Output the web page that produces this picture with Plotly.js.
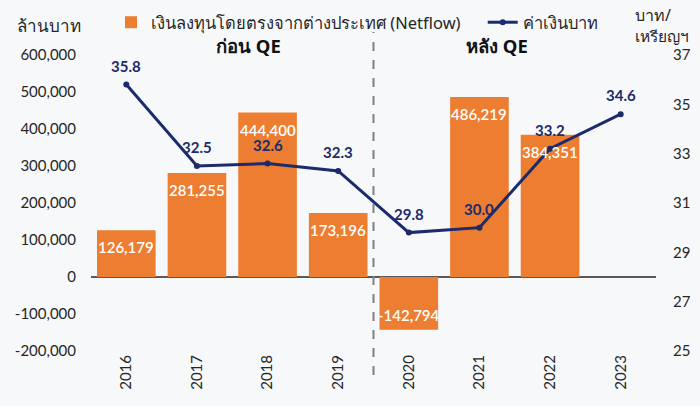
<!DOCTYPE html>
<html><head><meta charset="utf-8">
<script src="https://cdn.plot.ly/plotly-3.0.1.min.js"></script>
<style>html,body{margin:0;padding:0;background:#f7f8fa}</style>
</head><body>
<div id="chart" style="width:700px;height:406px"></div>
<script>
const years = ['2016','2017','2018','2019','2020','2021','2022','2023'];
const netflow = [126179, 281255, 444400, 173196, -142794, 486219, 384351, null];
const netflowLabels = ['126,179','281,255','444,400','173,196','-142,794','486,219','384,351',''];
const baht = [35.8, 32.5, 32.6, 32.3, 29.8, 30.0, 33.2, 34.6];
const bahtLabels = ['35.8','32.5','32.6','32.3','29.8','30.0','33.2','34.6'];
const leftTicks = [-200000,-100000,0,100000,200000,300000,400000,500000,600000];
const leftTickText = ['-200,000','-100,000','0','100,000','200,000','300,000','400,000','500,000','600,000'];
const rightTicks = [25,27,29,31,33,35,37];
const periodLabels = ['ก่อน QE','หลัง QE'];

const FONT = 'Lato, "Noto Sans", sans-serif';
const TH = '"Noto Sans", sans-serif';
const NAVY = '#1b2b6b';
const ORANGE = '#ed7d31';

const traces = [
  {
    type:'bar', x: years, y: netflow,
    name:'เงินลงทุนโดยตรงจากต่างประเทศ (Netflow)\u00a0\u00a0\u00a0\u00a0',
    marker:{color:ORANGE}, hoverinfo:'none'
  },
  {
    type:'scatter', mode:'lines+markers', x: years, y: baht, yaxis:'y2',
    name:'ค่าเงินบาท',
    line:{color:NAVY, width:3}, marker:{color:NAVY, size:6},
    hoverinfo:'none'
  }
];

const annotations = [];
years.forEach((yr,i)=>{
  if (netflow[i] !== null) {
    annotations.push({
      x: i, y: netflow[i], xref:'x', yref:'y', text: netflowLabels[i],
      showarrow:false, xanchor:'center', yanchor:'middle',
      yshift: netflow[i] >= 0 ? -17 : 15,
      font:{color:'#ffffff', size:15, family:FONT, weight:600}
    });
  }
  annotations.push({
    x: i, y: baht[i], xref:'x', yref:'y2', text: bahtLabels[i],
    showarrow:false, xanchor:'center', yanchor:'middle', yshift:19,
    font:{color:NAVY, size:15, family:FONT, weight:700}
  });
});
annotations.push(
  {xref:'paper', yref:'paper', x:(248-91)/565, y:(351-46)/296, xanchor:'center', yanchor:'middle',
   text:periodLabels[0], showarrow:false, font:{size:18.5, color:'#111', family:TH, weight:700}},
  {xref:'paper', yref:'paper', x:(497-91)/565, y:(351-46)/296, xanchor:'center', yanchor:'middle',
   text:periodLabels[1], showarrow:false, font:{size:18.5, color:'#111', family:TH, weight:700}},
  {xref:'paper', yref:'paper', x:(49-91)/565, y:(351-25)/296, xanchor:'center', yanchor:'middle',
   text:'ล้านบาท', showarrow:false, font:{size:17, color:'#262626', family:TH}},
  {xref:'paper', yref:'paper', x:(633-91)/565, y:(351-15)/296, xanchor:'left', yanchor:'middle',
   text:'บาท/', showarrow:false, font:{size:16, color:'#262626', family:TH}},
  {xref:'paper', yref:'paper', x:(633-91)/565, y:(351-36)/296, xanchor:'left', yanchor:'middle',
   text:'เหรียญฯ', showarrow:false, font:{size:15.5, color:'#262626', family:TH}}
);

const layout = {
  width:700, height:406,
  paper_bgcolor:'#f7f8fa', plot_bgcolor:'rgba(0,0,0,0)',
  margin:{l:91, r:44, t:55, b:55, autoexpand:false},
  font:{family:FONT, color:'#262626', size:15},
  bargap:0.17,
  showlegend:true,
  legend:{orientation:'h', x:(111-91)/565, y:(351-5)/296, xanchor:'left', yanchor:'top',
    bgcolor:'rgba(0,0,0,0)', font:{size:16.5, family:TH, color:'#262626'},
    traceorder:'normal'},
  xaxis:{type:'category', categoryorder:'array', categoryarray:years, range:[-0.5,7.5],
    tickangle:-90, showgrid:false, zeroline:false, showline:false,
    ticks:'', tickfont:{size:15, color:'#262626'}},
  yaxis:{range:[-200000,600000], tickvals:leftTicks, ticktext:leftTickText, showgrid:false,
    zeroline:true, zerolinecolor:'#595959', zerolinewidth:1.5, showline:false,
    ticklabelstandoff:14, tickfont:{size:15, color:'#262626'}},
  yaxis2:{overlaying:'y', side:'right', range:[25,37], tickvals:rightTicks, showgrid:false,
    zeroline:false, showline:false, ticklabelstandoff:16, tickfont:{size:15, color:'#262626'}},
  shapes:[{type:'line', xref:'x', yref:'paper', x0:3.5, x1:3.5, y0:(351-375)/296, y1:(351-32)/296,
    line:{color:'#808080', width:2, dash:'dash'}}],
  annotations: annotations
};

Plotly.newPlot('chart', traces, layout, {displayModeBar:false, staticPlot:true});
</script>
</body></html>
